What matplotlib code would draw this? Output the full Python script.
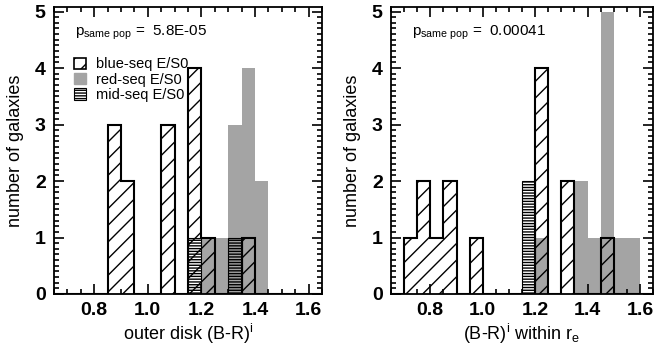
import numpy as np
import matplotlib
matplotlib.use('Agg')
import matplotlib.pyplot as plt
from matplotlib.patches import Patch
from matplotlib.ticker import MultipleLocator

plt.rcParams['font.family'] = 'Liberation Sans'
plt.rcParams['mathtext.fontset'] = 'custom'
plt.rcParams['mathtext.rm'] = 'Liberation Sans'
plt.rcParams['mathtext.it'] = 'Liberation Sans'
plt.rcParams['hatch.linewidth'] = 1.0

# bins of 0.05 in colour, 0.65 .. 1.65
bin_lo = 0.65
bin_w = 0.05
nbins = 20

# counts per bin, outer disk colour
blue_outer = [0, 0, 0, 0, 3, 2, 0, 0, 3, 0, 4, 1, 0, 0, 1, 0, 0, 0, 0, 0]
red_outer  = [0, 0, 0, 0, 0, 0, 0, 0, 0, 0, 0, 1, 1, 3, 4, 2, 0, 0, 0, 0]
mid_outer  = [0, 0, 0, 0, 0, 0, 0, 0, 0, 0, 1, 0, 0, 1, 0, 0, 0, 0, 0, 0]

# counts per bin, colour within r_e
blue_re = [0, 1, 2, 1, 2, 0, 1, 0, 0, 0, 0, 4, 0, 2, 0, 0, 1, 0, 0, 0]
red_re  = [0, 0, 0, 0, 0, 0, 0, 0, 0, 0, 0, 1, 0, 0, 2, 1, 5, 1, 1, 0]
mid_re  = [0, 0, 0, 0, 0, 0, 0, 0, 0, 0, 2, 0, 0, 0, 0, 0, 0, 0, 0, 0]

p_outer = '5.8E-05'
p_re = '0.00041'

edges = bin_lo + bin_w * np.arange(nbins + 1)
gray = '#a4a4a4'

fig = plt.figure(figsize=(6.58, 3.53), dpi=100)
ax1 = fig.add_axes([54/658, 1 - 294/353, 268/658, 287/353])
ax2 = fig.add_axes([391/658, 1 - 294/353, 262/658, 287/353])


def panel(ax, blue, red, mid, pval, xlabel):
    ax.stairs(red, edges, fill=True, color=gray, linewidth=0)
    ax.stairs(mid, edges, fill=True, facecolor='none', edgecolor='black',
              hatch='------', linewidth=0.8)
    ax.stairs(blue, edges, fill=True, facecolor='none', edgecolor='black',
              hatch='//', linewidth=1.5)
    ax.set_xlim(0.65, 1.65)
    ax.set_ylim(0, 5.08)
    ax.xaxis.set_minor_locator(MultipleLocator(0.05))
    ax.yaxis.set_major_locator(MultipleLocator(1))
    ax.yaxis.set_minor_locator(MultipleLocator(0.1))
    ax.set_xticks([0.8, 1.0, 1.2, 1.4, 1.6])
    ax.set_xticklabels(['0.8', '1.0', '1.2', '1.4', '1.6'])
    ax.tick_params(which='both', direction='in', top=True, right=True, width=1.2)
    ax.tick_params(which='major', length=7, labelsize=14, pad=6)
    ax.tick_params(which='minor', length=3.5)
    for lab in ax.get_xticklabels() + ax.get_yticklabels():
        lab.set_fontweight('bold')
    for s in ax.spines.values():
        s.set_linewidth(1.3)
    ax.set_xlabel(xlabel, fontsize=13, labelpad=2)
    ax.set_ylabel('number of galaxies', fontsize=13, labelpad=8)
    ax.text(0.08, 0.91, r'p$_{\mathrm{same\ pop}}$ =  ' + pval,
            transform=ax.transAxes, fontsize=11, va='center', ha='left')


panel(ax1, blue_outer, red_outer, mid_outer, p_outer, r'outer disk (B-R)$^{\mathrm{i}}$')
panel(ax2, blue_re, red_re, mid_re, p_re, r'(B-R)$^{\mathrm{i}}$ within r$_{\mathrm{e}}$')

handles = [Patch(facecolor='white', edgecolor='black', hatch='//', linewidth=1.2),
           Patch(facecolor=gray, edgecolor=gray),
           Patch(facecolor='white', edgecolor='black', hatch='------', linewidth=0.8)]
ax1.legend(handles, ['blue-seq E/S0', 'red-seq E/S0', 'mid-seq E/S0'],
           loc='upper left', bbox_to_anchor=(0.075, 0.825), frameon=False,
           fontsize=10.5, handlelength=0.8, handleheight=0.8,
           handletextpad=0.7, labelspacing=0.1, borderaxespad=0,
           borderpad=0)

fig.savefig('out.png', dpi=100)
